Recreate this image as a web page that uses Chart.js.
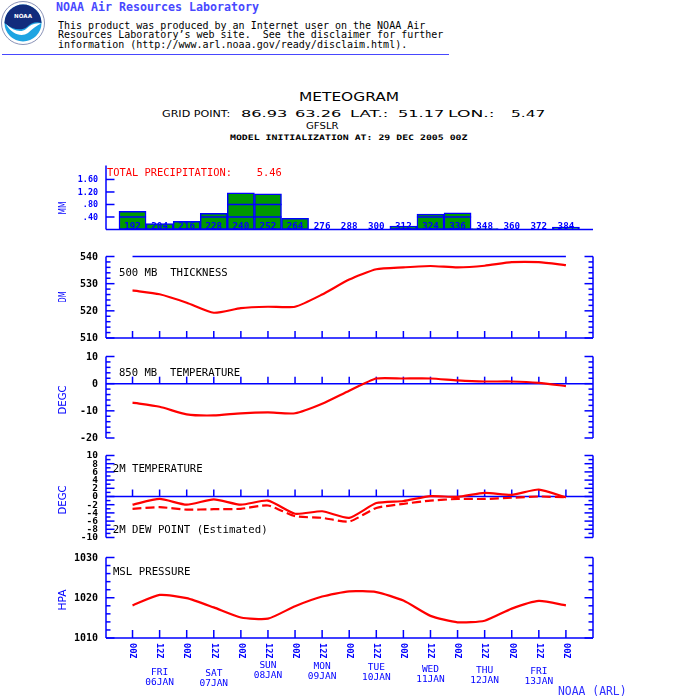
<!DOCTYPE html>
<html>
<head>
<meta charset="utf-8">
<title>Meteogram</title>
<script src="https://cdn.jsdelivr.net/npm/chart.js@4.4.1/dist/chart.umd.min.js"></script>
<style>
  html, body { margin: 0; padding: 0; background: #fff; }
  #page { position: relative; width: 700px; height: 700px; overflow: hidden; background: #fff; }
  #page canvas { position: absolute; left: 0; top: 0; }
  .t { position: absolute; white-space: pre; line-height: 1; transform-origin: 0 50%; transform: translateY(-50%); color: #000; }
  .mono { font-family: "DejaVu Sans Mono", monospace; }
  .sans { font-family: "DejaVu Sans", sans-serif; }
</style>
</head>
<body>
<div id="page">
  <svg width="46" height="46" viewBox="0 0 46 46" style="position:absolute;left:0;top:0">
    <circle cx="23" cy="23" r="21.5" fill="#fff" stroke="#8a93b8" stroke-width="1"/>
    <circle cx="23" cy="23" r="18.5" fill="#1ea4e2"/>
    <path d="M4.5 23 A18.5 18.5 0 0 1 41.5 23 C36 21 31 23 27 27 C22 31 12 30 4.5 23 Z" fill="#122c7c"/>
    <path d="M6 24 C13 31 21 33 26 29 C30 25 35 22.5 41 23.5 C36 26 32 29 28 33 C22 37 12 35 6 24 Z" fill="#fff"/>
    <text x="23" y="17.5" font-size="5.6" fill="#fff" text-anchor="middle" font-family="DejaVu Sans" font-weight="bold">NOAA</text>
  </svg>
  <div class="t mono" data-w="202.6" style="left:56px;top:7.8px;font-size:11.6px;font-weight:bold;color:#4848ff">NOAA Air Resources Laboratory</div>
  <div class="t mono" style="left:58px;top:25.7px;font-size:10px">This product was produced by an Internet user on the NOAA Air</div>
  <div class="t mono" style="left:58px;top:35.3px;font-size:10px">Resources Laboratory’s web site.  See the disclaimer for further</div>
  <div class="t mono" style="left:58px;top:45px;font-size:10px">information (http://www.arl.noaa.gov/ready/disclaim.html).</div>
  <div style="position:absolute;left:2px;top:53.5px;width:447px;height:1px;background:#4848ff"></div>

  <div class="t sans" data-w="100" style="left:298.5px;top:96.5px;font-size:12px">METEOGRAM</div>
  <div class="t sans" data-w="68" style="left:162px;top:114px;font-size:9.5px">GRID POINT:</div>
  <div class="t sans" data-w="46" style="left:241px;top:114px;font-size:9.5px">86.93</div>
  <div class="t sans" data-w="46" style="left:295px;top:114px;font-size:9.5px">63.26</div>
  <div class="t sans" data-w="38" style="left:350px;top:114px;font-size:9.5px">LAT.:</div>
  <div class="t sans" data-w="46" style="left:398px;top:114px;font-size:9.5px">51.17</div>
  <div class="t sans" data-w="47" style="left:448px;top:114px;font-size:9.5px">LON.:</div>
  <div class="t sans" data-w="34" style="left:511px;top:114px;font-size:9.5px">5.47</div>
  <div class="t sans" data-w="33" style="left:306px;top:126px;font-size:9.5px">GFSLR</div>
  <div class="t mono" data-w="238" style="left:230px;top:138px;font-size:7.5px;font-weight:bold">MODEL INITIALIZATION AT: 29 DEC 2005 00Z</div>

  <canvas id="cPrecip" width="700" height="700"></canvas>
  <canvas id="cThick" width="700" height="700"></canvas>
  <canvas id="c850" width="700" height="700"></canvas>
  <canvas id="c2m" width="700" height="700"></canvas>
  <canvas id="cMsl" width="700" height="700"></canvas>
</div>
<script>
// forecast hours from 29 DEC 2005 00Z
const hours = [192, 204, 216, 228, 240, 252, 264, 276, 288, 300, 312, 324, 336, 348, 360, 372, 384];
const hourLabels = ['192', '204', '216', '228', '240', '252', '264', '276', '288', '300', '312', '324', '336', '348', '360', '372', '384'];
const timeLabels = ['00Z', '12Z', '00Z', '12Z', '00Z', '12Z', '00Z', '12Z', '00Z', '12Z', '00Z', '12Z', '00Z', '12Z', '00Z', '12Z', '00Z'];
const dayHours = [204, 228, 252, 276, 300, 324, 348, 372];
const dayNames = ['FRI', 'SAT', 'SUN', 'MON', 'TUE', 'WED', 'THU', 'FRI'];
const dayDates = ['06JAN', '07JAN', '08JAN', '09JAN', '10JAN', '11JAN', '12JAN', '13JAN'];

// series
const precipMM = [0.58, 0.19, 0.26, 0.52, 1.17, 1.14, 0.36, 0, 0, 0, 0.11, 0.49, 0.53, 0.03, 0, 0, 0.08];
const thickDM = [527.5, 526.1, 523.0, 519.3, 521.0, 521.5, 521.5, 526.0, 531.5, 535.3, 536.0, 536.5, 536.0, 536.6, 537.9, 537.9, 536.8];
const temp850 = [-7.0, -8.5, -11.3, -11.7, -10.9, -10.6, -10.9, -7.4, -2.6, 1.9, 1.9, 1.9, 1.2, 0.8, 0.8, 0.3, -0.9];
const temp2m = [-2.0, -0.6, -2.0, -0.7, -2.0, -1.0, -4.2, -3.6, -5.2, -1.6, -1.1, 0.1, -0.1, 0.9, 0.4, 1.7, -0.2];
const dew2m = [-3.0, -2.6, -3.2, -3.1, -3.0, -2.2, -4.8, -5.2, -6.1, -2.8, -1.8, -1.0, -0.6, -0.6, -0.3, 0.0, -0.2];
const mslHPA = [1018.1, 1020.7, 1019.9, 1017.6, 1015.1, 1014.8, 1017.9, 1020.3, 1021.6, 1021.4, 1019.3, 1015.5, 1013.9, 1014.3, 1017.3, 1019.2, 1018.1];

// y tick values / labels
const precipTicks = [0.4, 0.8, 1.2, 1.6];
const precipTickLabels = ['.40', '.80', '1.20', '1.60'];
const thickTicks = [510, 520, 530, 540];
const t850Ticks = [-20, -10, 0, 10];
const t2mTicks = [-10, -8, -6, -4, -2, 0, 2, 4, 6, 8, 10];
const mslTicks = [1010, 1020, 1030];

const BLUE = '#0000ff';
const RED = '#ff0000';
const MONO = '"DejaVu Sans Mono", monospace';
const X_MIN = 180.25, X_MAX = 396;

document.querySelectorAll('[data-w]').forEach(el => {
  const k = parseFloat(el.dataset.w) / el.offsetWidth;
  el.style.transform = 'translateY(-50%) scaleX(' + k + ')';
});

function steps(a, b, step, skip) {
  const out = [];
  for (let v = a; v <= b + 1e-9; v += step) {
    if (!skip || skip.indexOf(v) < 0) out.push(v);
  }
  return out;
}

function seg(ctx, x1, y1, x2, y2) {
  ctx.beginPath();
  ctx.moveTo(x1, y1);
  ctx.lineTo(x2, y2);
  ctx.stroke();
}

function fitText(ctx, text, x, y, w, center) {
  const m = ctx.measureText(text).width;
  ctx.save();
  ctx.translate(x, y);
  ctx.scale(w / m, 1);
  ctx.textAlign = 'left';
  ctx.fillText(text, center ? -m / 2 : 0, 0);
  ctx.restore();
}

// ARL style frame: left axis with inward ticks, base line with 12h ticks, labels
function drawFrame(chart, cfg) {
  const ctx = chart.ctx, xs = chart.scales.x, ys = chart.scales.y, a = chart.chartArea;
  ctx.save();
  ctx.strokeStyle = BLUE;
  ctx.lineWidth = 1.5;
  seg(ctx, a.left, a.top, a.left, a.bottom);
  if (cfg.right) seg(ctx, a.right, a.top, a.right, a.bottom);
  cfg.minor.forEach(v => {
    const py = ys.getPixelForValue(v);
    seg(ctx, a.left, py, a.left + 4.5, py);
    if (cfg.right) seg(ctx, a.right - 4.5, py, a.right, py);
  });
  cfg.major.forEach(v => {
    const py = ys.getPixelForValue(v);
    seg(ctx, a.left, py, a.left + 8.5, py);
    if (cfg.right) seg(ctx, a.right - 8.5, py, a.right, py);
  });
  const by = ys.getPixelForValue(cfg.base);
  seg(ctx, a.left, by, a.right, by);
  if (cfg.tickLen) {
    hours.forEach(h => {
      const px = xs.getPixelForValue(h);
      seg(ctx, px, by, px, by - cfg.tickLen);
    });
  }
  if (cfg.ref !== undefined) {
    const py = ys.getPixelForValue(cfg.ref);
    seg(ctx, xs.getPixelForValue(hours[0]), py, xs.getPixelForValue(hours[hours.length - 1]), py);
  }
  ctx.fillStyle = cfg.tickColor;
  ctx.font = cfg.tickFont;
  ctx.textAlign = 'right';
  ctx.textBaseline = 'middle';
  cfg.major.forEach((v, i) => ctx.fillText(cfg.labels[i], a.left - 8, ys.getPixelForValue(v) + 0.5));

  // axis title
  ctx.fillStyle = BLUE;
  ctx.font = '11px "DejaVu Sans", sans-serif';
  ctx.save();
  ctx.translate(63.5, cfg.titleY);
  ctx.rotate(-Math.PI / 2);
  fitText(ctx, cfg.title, 0, 0, cfg.titleW, true);
  ctx.restore();

  // captions
  ctx.font = '10.6px ' + MONO;
  cfg.captions.forEach(c => {
    ctx.fillStyle = c.color || '#000';
    fitText(ctx, c.text, c.x, c.y, c.w, false);
  });
  ctx.restore();
}

function panelPlugin(cfg) {
  return {
    id: 'frame_' + cfg.name,
    beforeDatasetsDraw(chart) { drawFrame(chart, cfg); },
    afterDatasetsDraw(chart) { if (cfg.after) cfg.after(chart); }
  };
}

function makeChart(id, cfg, type, datasets) {
  return new Chart(document.getElementById(id), {
    type: type,
    data: { datasets: datasets },
    options: {
      responsive: false,
      animation: false,
      events: [],
      layout: { padding: { left: 106, right: 107, top: cfg.top, bottom: 700 - cfg.bottom } },
      plugins: { legend: { display: false }, tooltip: { enabled: false } },
      scales: {
        x: { type: 'linear', display: false, offset: false, min: X_MIN, max: X_MAX },
        y: { type: 'linear', display: false, min: cfg.min, max: cfg.max }
      }
    },
    plugins: [panelPlugin(cfg)]
  });
}

function lineSet(values, dash) {
  return {
    data: hours.map((h, i) => ({ x: h, y: values[i] })),
    borderColor: RED,
    borderWidth: 2.2,
    borderDash: dash || [],
    pointRadius: 0,
    tension: 0.2,
    fill: false
  };
}

const totalPrecip = precipMM.reduce((s, v) => s + v, 0).toFixed(2);

// precipitation
makeChart('cPrecip', {
  name: 'precip', top: 165.4, bottom: 229.5, min: 0, max: 2.05,
  major: precipTicks, labels: precipTickLabels, minor: [], base: 0, tickLen: 0, right: false,
  tickColor: BLUE, tickFont: 'bold 8.4px ' + MONO, title: 'MM', titleY: 208, titleW: 13,
  captions: [
    { text: 'TOTAL PRECIPITATION:', x: 107, y: 173, w: 125, color: RED },
    { text: totalPrecip, x: 256.7, y: 173, w: 25, color: RED }
  ],
  after(chart) {
    const ctx = chart.ctx, ys = chart.scales.y, xs = chart.scales.x;
    ctx.save();
    ctx.strokeStyle = BLUE;
    ctx.lineWidth = 1.5;
    chart.getDatasetMeta(0).data.forEach((bar, i) => {
      precipTicks.forEach(v => {
        if (precipMM[i] > v + 0.03) {
          const py = ys.getPixelForValue(v);
          seg(ctx, bar.x - bar.width / 2, py, bar.x + bar.width / 2, py);
        }
      });
    });
    ctx.fillStyle = BLUE;
    ctx.font = 'bold 9px ' + MONO;
    ctx.textBaseline = 'middle';
    hours.forEach((h, i) => fitText(ctx, hourLabels[i], xs.getPixelForValue(h), 226.7, 16.7, true));
    ctx.restore();
  }
}, 'bar', [{
  data: hours.map((h, i) => ({ x: h, y: precipMM[i] })),
  backgroundColor: '#009900',
  borderColor: BLUE,
  borderWidth: 1.5,
  borderSkipped: false,
  barPercentage: 1,
  categoryPercentage: 1,
  grouped: false
}]);

// 500 mb thickness
makeChart('cThick', {
  name: 'thick', top: 256.5, bottom: 338, min: 510, max: 540,
  major: thickTicks, labels: thickTicks.map(String), minor: steps(510, 540, 2, thickTicks),
  base: 510, tickLen: 7, right: true, ref: 540,
  tickColor: '#000', tickFont: 'bold 10px ' + MONO, title: 'DM', titleY: 297, titleW: 11,
  captions: [{ text: '500 MB  THICKNESS', x: 119, y: 273.3, w: 108.7 }]
}, 'line', [lineSet(thickDM)]);

// 850 mb temperature
makeChart('c850', {
  name: 't850', top: 356.5, bottom: 438, min: -20, max: 10,
  major: t850Ticks, labels: t850Ticks.map(String), minor: steps(-20, 10, 2, t850Ticks),
  base: 0, tickLen: 7, right: true,
  tickColor: '#000', tickFont: 'bold 10px ' + MONO, title: 'DEGC', titleY: 400, titleW: 29,
  captions: [{ text: '850 MB  TEMPERATURE', x: 119, y: 373.3, w: 121 }]
}, 'line', [lineSet(temp850)]);

// 2 m temperature and dew point
makeChart('c2m', {
  name: 't2m', top: 455.5, bottom: 537.5, min: -10, max: 10,
  major: t2mTicks, labels: t2mTicks.map(String), minor: steps(-9, 9, 2),
  base: 0, tickLen: 7, right: true,
  tickColor: '#000', tickFont: 'bold 9.5px ' + MONO, title: 'DEGC', titleY: 500, titleW: 29,
  captions: [
    { text: '2M TEMPERATURE', x: 112.7, y: 469.3, w: 90 },
    { text: '2M DEW POINT (Estimated)', x: 112.7, y: 530, w: 155 }
  ]
}, 'line', [lineSet(temp2m), lineSet(dew2m, [9, 4])]);

// mean sea level pressure + time axis
const dayLabelY = [672.5, 673.5, 666, 667, 668, 670, 671, 672];
makeChart('cMsl', {
  name: 'msl', top: 557.5, bottom: 638, min: 1010, max: 1030,
  major: mslTicks, labels: mslTicks.map(String), minor: steps(1010, 1030, 2, mslTicks),
  base: 1010, tickLen: 8, right: true,
  tickColor: '#000', tickFont: 'bold 10px ' + MONO, title: 'HPA', titleY: 600, titleW: 21,
  captions: [{ text: 'MSL PRESSURE', x: 112.9, y: 572.5, w: 77.5 }],
  after(chart) {
    const ctx = chart.ctx, xs = chart.scales.x;
    ctx.save();
    ctx.fillStyle = BLUE;
    ctx.textBaseline = 'middle';
    ctx.font = 'bold 8.5px ' + MONO;
    hours.forEach((h, i) => {
      ctx.save();
      ctx.translate(xs.getPixelForValue(h), 643);
      ctx.rotate(Math.PI / 2);
      fitText(ctx, timeLabels[i], 0, 0, 15.5, false);
      ctx.restore();
    });
    ctx.font = '9.5px ' + MONO;
    ctx.textAlign = 'center';
    dayHours.forEach((h, i) => {
      const px = xs.getPixelForValue(h);
      ctx.fillText(dayNames[i], px, dayLabelY[i]);
      ctx.fillText(dayDates[i], px, dayLabelY[i] + 10);
    });
    ctx.textAlign = 'left';
    ctx.font = '11.4px ' + MONO;
    ctx.fillStyle = '#3030ff';
    ctx.fillText('NOAA (ARL)', 558, 692.5);
    ctx.restore();
  }
}, 'line', [lineSet(mslHPA)]);
</script>
</body>
</html>
